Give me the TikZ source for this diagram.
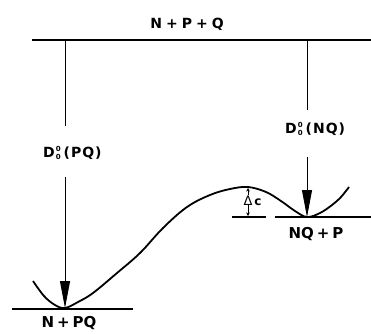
\documentclass[tikz,border=0pt]{standalone}
\usepackage{fontspec}
\setmainfont{DejaVu Sans}
\usetikzlibrary{arrows.meta}
\newcommand\dzero{D\hspace{1pt}\rlap{\raisebox{5.3pt}{\fontsize{7}{7}\selectfont 0}}\raisebox{-2.7pt}{\fontsize{7}{7}\selectfont 0}}
\begin{document}
\begin{tikzpicture}[x=1pt,y=-1pt,
  level/.style={line width=1.2pt},
  curvestyle/.style={line width=1.8pt},
  vert/.style={line width=0.8pt},
  bigtip/.style={-{Triangle[length=27pt,width=10pt]}},
  smalltip/.style={-{Stealth[length=3.5pt,width=3.5pt]}},
  lab/.style={font=\fontsize{15}{15}\selectfont\bfseries, inner sep=0pt},
  dlab/.style={font=\fontsize{14}{14}\selectfont\bfseries, inner sep=0pt},
  toplab/.style={font=\fontsize{14}{14}\selectfont\bfseries, inner sep=0pt}]
\useasboundingbox (0,0) rectangle (371,333);
% levels
\coordinate (tl) at (32,40);
\coordinate (tr) at (371,40);
\coordinate (bl1) at (12,309);
\coordinate (bl2) at (133,309);
\coordinate (rl1) at (275,217);
\coordinate (rl2) at (371,217);
\coordinate (dl1) at (232,217);
\coordinate (dl2) at (266,217);
\draw[level] (tl) -- (tr);
\draw[level] (bl1) -- (bl2);
\draw[level] (rl1) -- (rl2);
\draw[level] (dl1) -- (dl2);
% labels
\node[toplab, anchor=base] (npq) at (187,28) {N\hspace{4pt}+\hspace{4pt}P\hspace{4pt}+\hspace{4pt}Q};
\node[lab, anchor=base] (npq2) at (69,327) {N\hspace{3pt}+\hspace{3pt}PQ};
\node[lab, anchor=base] (nqp) at (316,238) {NQ\hspace{3pt}+\hspace{3pt}P};
\node[dlab, anchor=base west] (dpq) at (43,157) {\dzero\hspace{3pt}(\hspace{1pt}P\hspace{1pt}Q\hspace{1pt})};
\node[dlab, anchor=base west] (dnq) at (285,133) {\dzero\hspace{3pt}(\hspace{1pt}N\hspace{1pt}Q\hspace{1pt})};
% vertical arrows
\coordinate (a1) at (65,40);
\coordinate (a1e) at (65,126);
\coordinate (a2) at (65,177);
\coordinate (minL) at (65,308);
\coordinate (b1) at (307,40);
\coordinate (b1e) at (307,110);
\coordinate (b2) at (307,157);
\coordinate (minR) at (307,217);
\draw[vert] (a1) -- (a1e);
\draw[vert, bigtip] (a2) -- (minL);
\draw[vert] (b1) -- (b1e);
\draw[vert, bigtip] (b2) -- (minR);
% potential curve
\draw[curvestyle, line join=round] plot[smooth, tension=0.6] coordinates {
 (33,281) (44,296) (55,305) (65,308) (78,302) (93,293) (117,273) (140,253)
 (163,228) (187,207) (210,195) (230,189) (248,187) (266,192) (281,201)
 (295,211) (307,217) (320,213) (332,205) (341,197) (349,187)};
% Delta c
\coordinate (peak) at (248,188);
\coordinate (dbase) at (248,216);
\node[font=\fontsize{13}{13}\selectfont, inner sep=0pt, anchor=base] (delta) at (248,205) {Δ};
\node[font=\fontsize{12}{12}\selectfont\bfseries, inner sep=0pt, anchor=base west] (csub) at ([xshift=1.5pt]delta.base east) {c};
\draw[vert, smalltip] (delta.north) -- (peak);
\draw[vert, smalltip] (delta.south) -- (dbase);
\end{tikzpicture}
\end{document}
